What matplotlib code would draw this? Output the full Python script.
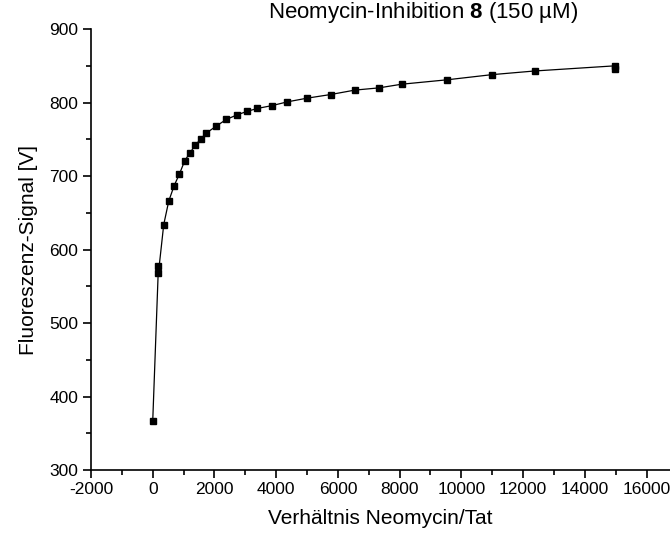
import matplotlib
matplotlib.use("Agg")
import matplotlib.pyplot as plt
from matplotlib.ticker import MultipleLocator

plt.rcParams["font.family"] = ["Liberation Sans", "DejaVu Sans"]
plt.rcParams["axes.unicode_minus"] = False
plt.rcParams["mathtext.fontset"] = "custom"
plt.rcParams["mathtext.rm"] = "Liberation Sans"
plt.rcParams["mathtext.bf"] = "Liberation Sans:bold"

# ratio Neomycin/Tat and fluorescence signal
ratio = [0, 185, 185, 357, 520, 695, 867, 1039, 1214, 1377, 1549, 1721,
         2058, 2383, 2717, 3052, 3390, 3877, 4364, 5000, 5769, 6549, 7328,
         8065, 9536, 10987, 12370, 14968, 14968]
signal = [366, 577, 568, 634, 666, 687, 703, 721, 732, 742, 750, 758,
          768, 777, 783, 788, 792, 796, 801, 806, 811, 817, 820,
          825, 831, 838, 843, 850, 846]

fig = plt.figure(figsize=(6.7, 5.37), dpi=100)
ax = fig.add_axes([0.1358, 0.1248, 0.8642, 0.821])

ax.plot(ratio, signal, color="black", lw=0.9, marker="s", ms=5,
        mfc="black", mec="black")

ax.set_xlim(-2000, 16760)
ax.set_ylim(300, 900)
ax.xaxis.set_major_locator(MultipleLocator(2000))
ax.xaxis.set_minor_locator(MultipleLocator(1000))
ax.yaxis.set_major_locator(MultipleLocator(100))
ax.yaxis.set_minor_locator(MultipleLocator(50))

for s in ("top", "right"):
    ax.spines[s].set_visible(False)
for s in ("left", "bottom"):
    ax.spines[s].set_linewidth(1.2)
ax.tick_params(which="major", direction="out", length=6, width=1.2,
               labelsize=12.5, pad=3)
ax.tick_params(which="minor", direction="out", length=3.5, width=1.2)

ax.set_xlabel("Verhältnis Neomycin/Tat", fontsize=15, labelpad=8)
ax.set_ylabel("Fluoreszenz-Signal [V]", fontsize=15, labelpad=8)

fig.text(0.632, 0.977, r"Neomycin-Inhibition $\mathbf{8}$ (150 µM)",
         ha="center", va="center", fontsize=16)

fig.savefig("out.png", dpi=100)
